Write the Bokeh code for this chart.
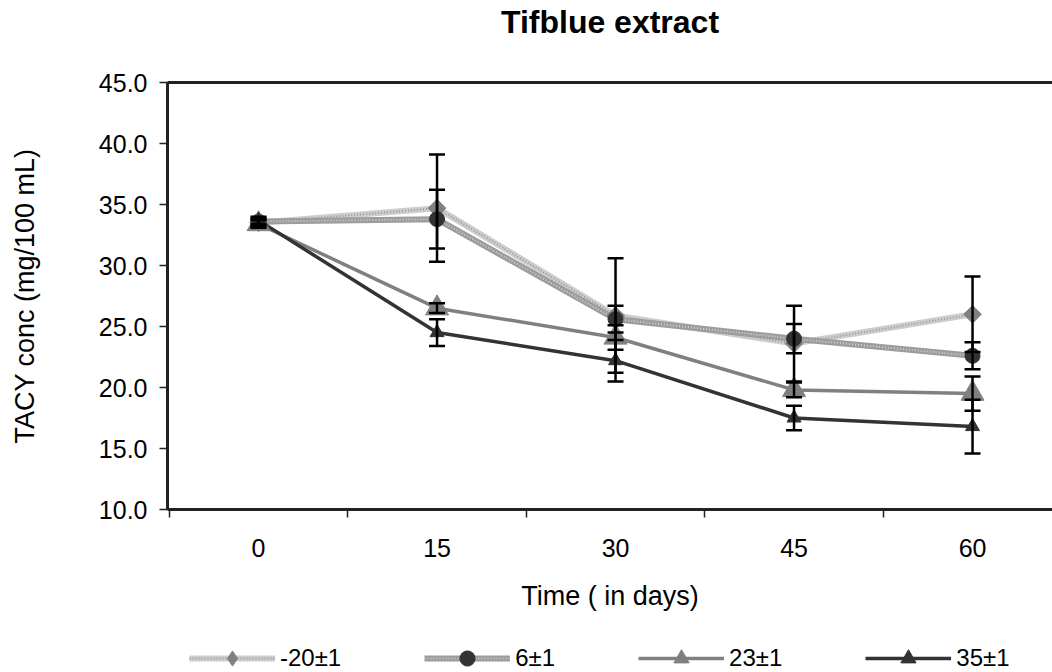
import math
from bokeh.plotting import figure
from bokeh.layouts import column
from bokeh.models import (ColumnDataSource, Whisker, TeeHead, FixedTicker, LinearAxis,
                          Range1d, Legend, LegendItem, NumeralTickFormatter)
from bokeh.embed import file_html
from bokeh.resources import INLINE

# ---------------- data ----------------
days = [0, 15, 30, 45, 60]
series_names = ["-20\u00b11", "6\u00b11", "23\u00b11", "35\u00b11"]
v_m20 = [33.5, 34.7, 25.9, 23.6, 26.0]
e_m20 = [0.3, 4.4, 4.7, 3.1, 3.1]
v_6 = [33.6, 33.8, 25.6, 24.0, 22.6]
e_6 = [0.3, 2.4, 1.1, 1.2, 1.1]
v_23 = [33.4, 26.5, 24.1, 19.8, 19.5]
e_23 = [0.3, 0.4, 1.0, 0.6, 1.4]
v_35 = [33.7, 24.5, 22.2, 17.5, 16.8]
e_35 = [0.3, 1.1, 1.7, 1.0, 2.2]
y_ticks = [10, 15, 20, 25, 30, 35, 40, 45]
boundaries = [-7.5, 7.5, 22.5, 37.5, 52.5, 67.5]
title_text = "Tifblue extract"
x_title = "Time ( in days)"
y_title = "TACY conc (mg/100 mL)"

FONT = "Liberation Sans"
AX = "#222222"
MAIN_H = 630
LEG_H = 672 - MAIN_H

p = figure(width=1052, height=MAIN_H, output_backend="svg", toolbar_location=None,
           x_range=Range1d(-7.65, 66.72), y_range=Range1d(10, 45),
           x_axis_type=None, y_axis_type=None,
           min_border_left=167, min_border_right=0, min_border_top=82,
           min_border_bottom=MAIN_H - 509)
p.outline_line_color = None
p.background_fill_color = "white"
p.border_fill_color = "white"

# y axis
yaxis = LinearAxis(ticker=FixedTicker(ticks=y_ticks), formatter=NumeralTickFormatter(format="0.0"),
                   axis_label=y_title)
yaxis.axis_line_width = 3
yaxis.axis_line_color = AX
yaxis.major_tick_in = 0
yaxis.major_tick_out = 8
yaxis.major_tick_line_width = 1.5
yaxis.major_tick_line_color = AX
yaxis.minor_tick_line_color = None
yaxis.major_label_text_font = FONT
yaxis.major_label_text_font_size = "25px"
yaxis.major_label_text_color = "black"
yaxis.major_label_standoff = 12
yaxis.axis_label_text_font = FONT
yaxis.axis_label_text_font_size = "27px"
yaxis.axis_label_text_font_style = "normal"
yaxis.axis_label_text_color = "black"
yaxis.axis_label_standoff = 56
p.add_layout(yaxis, "left")

# x axis
xaxis = LinearAxis(ticker=FixedTicker(ticks=days, minor_ticks=boundaries), axis_label=x_title)
xaxis.axis_line_width = 3
xaxis.axis_line_color = AX
xaxis.major_tick_line_color = None
xaxis.major_tick_in = 0
xaxis.major_tick_out = 8
xaxis.minor_tick_in = 0
xaxis.minor_tick_out = 8
xaxis.minor_tick_line_width = 1.5
xaxis.minor_tick_line_color = AX
xaxis.major_label_text_font = FONT
xaxis.major_label_text_font_size = "25px"
xaxis.major_label_text_color = "black"
xaxis.major_label_standoff = 21
xaxis.axis_label_text_font = FONT
xaxis.axis_label_text_font_size = "27px"
xaxis.axis_label_text_font_style = "normal"
xaxis.axis_label_text_color = "black"
xaxis.axis_label_standoff = 21
p.add_layout(xaxis, "below")

# top border carrying the chart title
top = LinearAxis(ticker=FixedTicker(ticks=[]), axis_label=title_text)
top.axis_line_width = 3
top.axis_line_color = AX
top.major_tick_line_color = None
top.minor_tick_line_color = None
top.major_tick_out = 0
top.major_label_text_font_size = "0px"
top.axis_label_text_font = FONT
top.axis_label_text_font_size = "32px"
top.axis_label_text_font_style = "bold"
top.axis_label_text_color = "black"
top.axis_label_standoff = 43
p.add_layout(top, "above")

# style per series: line colour, dot colour, line width, marker, marker colour, size, angle, legend marker
specs = [
    ("#cdcdcd", "#9a9a9a", 6, "square", "#808080", 12.5, math.pi / 4, "diamond"),
    ("#9c9c9c", "#cfcfcf", 6, "circle", "#333333", 15, 0, "circle"),
    ("#808080", None, 3.5, "triangle", "#808080", 23, 0, "triangle"),
    ("#333333", None, 3.5, "triangle", "#333333", 14, 0, "triangle"),
]
values = [v_m20, v_6, v_23, v_35]
errors = [e_m20, e_6, e_23, e_35]

sources = []
for vals, errs, (lc, dc, lw, mk, mc, ms, ang, lmk) in zip(values, errors, specs):
    src = ColumnDataSource(dict(x=days, y=vals,
                                upper=[v + e for v, e in zip(vals, errs)],
                                lower=[v - e for v, e in zip(vals, errs)]))
    sources.append(src)
    p.line("x", "y", source=src, line_color=lc, line_width=lw, line_join="round")
    if dc is not None:
        p.line("x", "y", source=src, line_color=dc, line_width=2, line_dash="1 2")

# error bars under the markers
for src in sources:
    p.add_layout(Whisker(source=src, base="x", upper="upper", lower="lower",
                         line_color="black", line_width=2.5, level="glyph",
                         upper_head=TeeHead(size=16, line_width=2.5, line_color="black"),
                         lower_head=TeeHead(size=16, line_width=2.5, line_color="black")))

for src, (lc, dc, lw, mk, mc, ms, ang, lmk) in zip(sources, specs):
    p.scatter("x", "y", source=src, marker=mk, size=ms, angle=ang,
              fill_color=mc, line_color=mc)

# ---------------- legend strip below the chart ----------------
# (the series data lie outside this strip's ranges, so only the legend shows)
lg = figure(width=1052, height=LEG_H, output_backend="svg", toolbar_location=None,
            x_range=Range1d(100, 101), y_range=Range1d(100, 101),
            x_axis_type=None, y_axis_type=None, min_border=0)
lg.outline_line_color = None
lg.background_fill_color = "white"
lg.border_fill_color = "white"

items = []
for name, src, (lc, dc, lw, mk, mc, ms, ang, lmk) in zip(series_names, sources, specs):
    rs = [lg.line("x", "y", source=src, line_color=lc, line_width=lw)]
    if dc is not None:
        rs.append(lg.line("x", "y", source=src, line_color=dc, line_width=2, line_dash="1 2"))
    rs.append(lg.scatter("x", "y", source=src, marker=lmk, fill_color=mc, line_color=mc))
    items.append(LegendItem(label=name, renderers=rs))

legend = Legend(items=items, location=(22, -5), orientation="horizontal",
                glyph_width=86, glyph_height=38, label_standoff=5, spacing=83,
                padding=0, margin=0, border_line_color=None, background_fill_alpha=0,
                label_text_font=FONT, label_text_font_size="24px", label_text_color="black")
lg.add_layout(legend)

layout = column(p, lg, spacing=0)
open("out.html", "w").write(file_html(layout, INLINE))
